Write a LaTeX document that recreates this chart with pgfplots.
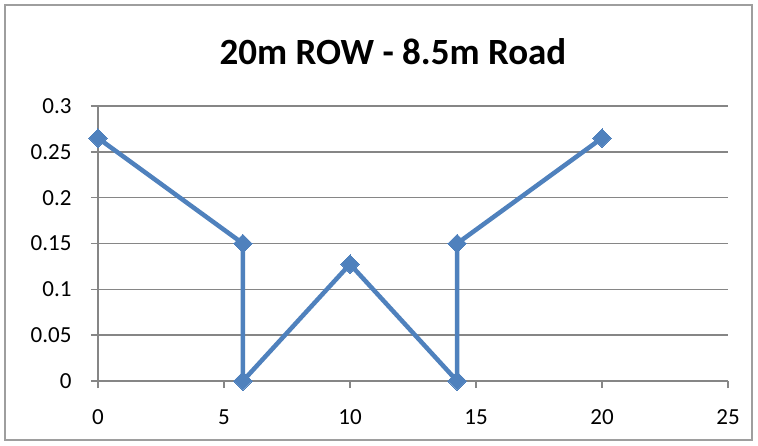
\documentclass[border=0pt]{standalone}
\usepackage{pgfplots}
\pgfplotsset{compat=1.18}
\usepackage{fontspec}
\setmainfont{Carlito}
\definecolor{exblue}{HTML}{4F81BD}
\definecolor{exgrid}{HTML}{868686}
\begin{document}
\begin{tikzpicture}
\useasboundingbox (0pt,0pt) rectangle (758pt,445pt);
\fill[white] (0pt,0pt) rectangle (758pt,445pt);
\draw[exgrid!80,line width=1.2pt] (5pt,5pt) rectangle (752pt,440pt);
\node[font=\fontsize{37}{42}\selectfont\bfseries] at (393pt,393pt) {20m ROW - 8.5m Road};
\begin{axis}[
  at={(98pt,64pt)}, anchor=south west,
  scale only axis, width=630pt, height=275pt,
  xmin=0, xmax=25, ymin=0, ymax=0.3,
  xtick={0,5,...,25}, ytick={0,0.05,...,0.3},
  yticklabels={0,0.05,0.1,0.15,0.2,0.25,0.3},
  axis lines*=left,
  axis line style={exgrid, line width=1.5pt},
  ymajorgrids, grid style={exgrid, line width=1.5pt},
  tick style={exgrid, line width=1.5pt},
  tick align=outside, major tick length=7pt,
  ticklabel style={font=\fontsize{23}{27}\selectfont},
  /pgf/number format/assume math mode=true,
  xticklabel style={yshift=-18pt},
  yticklabel style={xshift=-16pt},
  clip=false,
]
\addplot[exblue, line width=4.5pt, mark=square*, mark size=6.5pt, mark options={solid, fill=exblue, line width=0pt, rotate=45}] coordinates {
(0,0.265) (5.75,0.15) (5.75,0) (10,0.1275) (14.25,0) (14.25,0.15) (20,0.265)
};
\end{axis}
\end{tikzpicture}
\end{document}
